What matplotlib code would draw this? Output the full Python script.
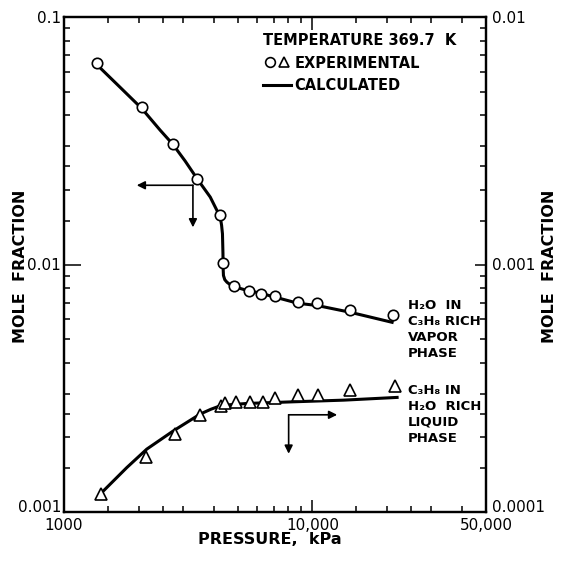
import matplotlib.pyplot as plt
from matplotlib.lines import Line2D
from matplotlib.legend_handler import HandlerTuple
from matplotlib.ticker import LogLocator, NullFormatter

# H2O in C3H8 rich vapor phase (left axis), experimental
vap_p = [1362, 2056, 2742, 3447, 4256, 4385, 4847, 5572, 6220, 7046, 8756, 10440, 14220, 21150]
vap_x = [0.0653, 0.0431, 0.0308, 0.0222, 0.0159, 0.0101, 0.00815, 0.00780, 0.00761,
         0.00749, 0.00704, 0.00700, 0.00655, 0.00625]

# calculated vapor curve
vap_calc_p = [1362, 1682, 2056, 2438, 2742, 3073, 3447, 3879, 4256, 4310, 4345, 4365,
              4370, 4385, 4440, 4530, 4660, 4815, 5400, 6166, 8756, 10440, 14220, 20940]
vap_calc_x = [0.0639, 0.0520, 0.0427, 0.0349, 0.0306, 0.0262, 0.0221, 0.01873, 0.01555,
              0.0144, 0.0133, 0.01105, 0.00975, 0.00903, 0.00868, 0.00848, 0.00830,
              0.00815, 0.00788, 0.00766, 0.00697, 0.00683, 0.00641, 0.00584]

# C3H8 in H2O rich liquid phase (right axis), experimental
liq_p = [1410, 2134, 2811, 3531, 4296, 4453, 4921, 5584, 6314, 7096, 8756, 10505, 14130, 21470]
liq_x = [0.000118, 0.000167, 0.000206, 0.000247, 0.000269, 0.000275, 0.000277, 0.000279,
         0.000279, 0.000290, 0.000297, 0.000297, 0.000311, 0.000324]

# calculated liquid curve
liq_calc_p = [1440, 1789, 2154, 2758, 3531, 3900, 4256, 4700, 5453, 8406, 13370, 21930]
liq_calc_x = [0.0001216, 0.0001511, 0.0001795, 0.0002128, 0.0002486, 0.000260, 0.0002686,
              0.0002715, 0.0002745, 0.0002788, 0.0002831, 0.0002904]

# axis pointer arrows (corner, tip of horizontal, tip of vertical), in left-axis units
arrow_vap = [(3304, 0.0209), (1963, 0.0209), (3304, 0.01413)]
arrow_liq = [(8025, 0.00247), (12580, 0.00247), (8025, 0.00172)]

x_ticks = [1000, 10000, 50000]
x_labels = ['1000', '10,000', '50,000']
yl_ticks = [0.001, 0.01, 0.1]
yl_labels = ['0.001', '0.01', '0.1']
yr_ticks = [0.0001, 0.001, 0.01]
yr_labels = ['0.0001', '0.001', '0.01']

subs = [1.5, 2, 2.5, 3, 4, 5, 6, 7, 8, 9]

fig = plt.figure(figsize=(5.61, 5.67), dpi=100)
ax = fig.add_axes([64 / 561, 1 - 512 / 567, 422 / 561, 495 / 567])
ax2 = ax.twinx()

ax.set_xscale('log')
ax.set_yscale('log')
ax2.set_yscale('log')
ax.set_xlim(1000, 50000)
ax.set_ylim(0.001, 0.1)
ax2.set_ylim(0.0001, 0.01)

#curves and points
ax.plot(vap_calc_p, vap_calc_x, color='black', lw=2.2, zorder=2, solid_joinstyle='round')
ax.plot(vap_p, vap_x, 'o', ms=7.5, mfc='white', mec='black', mew=1.2, zorder=3)
ax2.plot(liq_calc_p, liq_calc_x, color='black', lw=2.2, zorder=2, solid_joinstyle='round')
ax2.plot(liq_p, liq_x, '^', ms=8, mfc='white', mec='black', mew=1.2, zorder=3)

#ticks
ax.set_xticks(x_ticks, x_labels)
ax.xaxis.set_minor_locator(LogLocator(base=10, subs=subs, numticks=20))
ax.xaxis.set_minor_formatter(NullFormatter())
ax.set_yticks(yl_ticks, yl_labels)
ax.yaxis.set_minor_locator(LogLocator(base=10, subs=subs, numticks=20))
ax.yaxis.set_minor_formatter(NullFormatter())
ax2.set_yticks(yr_ticks, yr_labels)
ax2.yaxis.set_minor_locator(LogLocator(base=10, subs=subs, numticks=20))
ax2.yaxis.set_minor_formatter(NullFormatter())

ax.tick_params(axis='x', which='both', direction='in', top=True, bottom=True,
               labelsize=11, pad=4, width=1.1)
ax.tick_params(axis='x', which='major', length=9)
ax.tick_params(axis='x', which='minor', length=4)
ax.tick_params(axis='y', which='both', direction='in', left=True, right=False,
               labelsize=11, pad=2, width=1.1)
ax.tick_params(axis='y', which='major', length=12)
ax.tick_params(axis='y', which='minor', length=4)
ax2.tick_params(axis='y', which='both', direction='in', right=True,
                labelsize=11, pad=4, width=1.1)
ax2.tick_params(axis='y', which='major', length=8)
ax2.tick_params(axis='y', which='minor', length=4)

# bottom y labels sit a little above the corner, as in the original
ax.yaxis.get_major_ticks()[0].label1.set_va('baseline')
ax2.yaxis.get_major_ticks()[0].label2.set_va('baseline')

for a in (ax, ax2):
    for s in a.spines.values():
        s.set_linewidth(1.6)

#arrows pointing at the axis used by each curve
for corner, tip_h, tip_v in (arrow_vap, arrow_liq):
    for tip in (tip_h, tip_v):
        ax.annotate('', xy=tip, xytext=corner,
                    arrowprops=dict(arrowstyle='-|>', lw=1.2, color='black',
                                    mutation_scale=12, shrinkA=0, shrinkB=0))

#curve labels
ax.text(0.815, 0.430, 'H\u2082O  IN\nC\u2083H\u2088 RICH\nVAPOR\nPHASE',
        transform=ax.transAxes, ha='left', va='top', fontsize=9.5,
        fontweight='bold', linespacing=1.3)
ax.text(0.815, 0.259, 'C\u2083H\u2088 IN\nH\u2082O  RICH\nLIQUID\nPHASE',
        transform=ax.transAxes, ha='left', va='top', fontsize=9.5,
        fontweight='bold', linespacing=1.3)

#legend block
exp_handles = (Line2D([], [], ls='none', marker='o', ms=7, mfc='white', mec='black', mew=1.2),
               Line2D([], [], ls='none', marker='^', ms=7, mfc='white', mec='black', mew=1.2))
calc_handle = Line2D([], [], color='black', lw=2.2)
leg = ax.legend([exp_handles, calc_handle], ['EXPERIMENTAL', 'CALCULATED'],
                handler_map={tuple: HandlerTuple(ndivide=None, pad=0)},
                title='TEMPERATURE 369.7  K', alignment='left',
                loc='upper left', bbox_to_anchor=(256 / 561, 1 - 26 / 567),
                bbox_transform=fig.transFigure, frameon=False, borderpad=0,
                handlelength=1.9, handletextpad=0.25, labelspacing=0.5,
                prop={'weight': 'bold', 'size': 10.5},
                title_fontproperties={'weight': 'bold', 'size': 10.5})

#axis titles
fig.text(21 / 561, 1 - 266 / 567, 'MOLE  FRACTION', rotation=90, ha='center', va='center',
         fontsize=11.5, fontweight='bold')
fig.text(549 / 561, 1 - 266 / 567, 'MOLE  FRACTION', rotation=90, ha='center', va='center',
         fontsize=11.5, fontweight='bold')
fig.text(270 / 561, 1 - 540 / 567, 'PRESSURE,  kPa', ha='center', va='center',
         fontsize=11.5, fontweight='bold')

fig.savefig('out.png', dpi=100)
